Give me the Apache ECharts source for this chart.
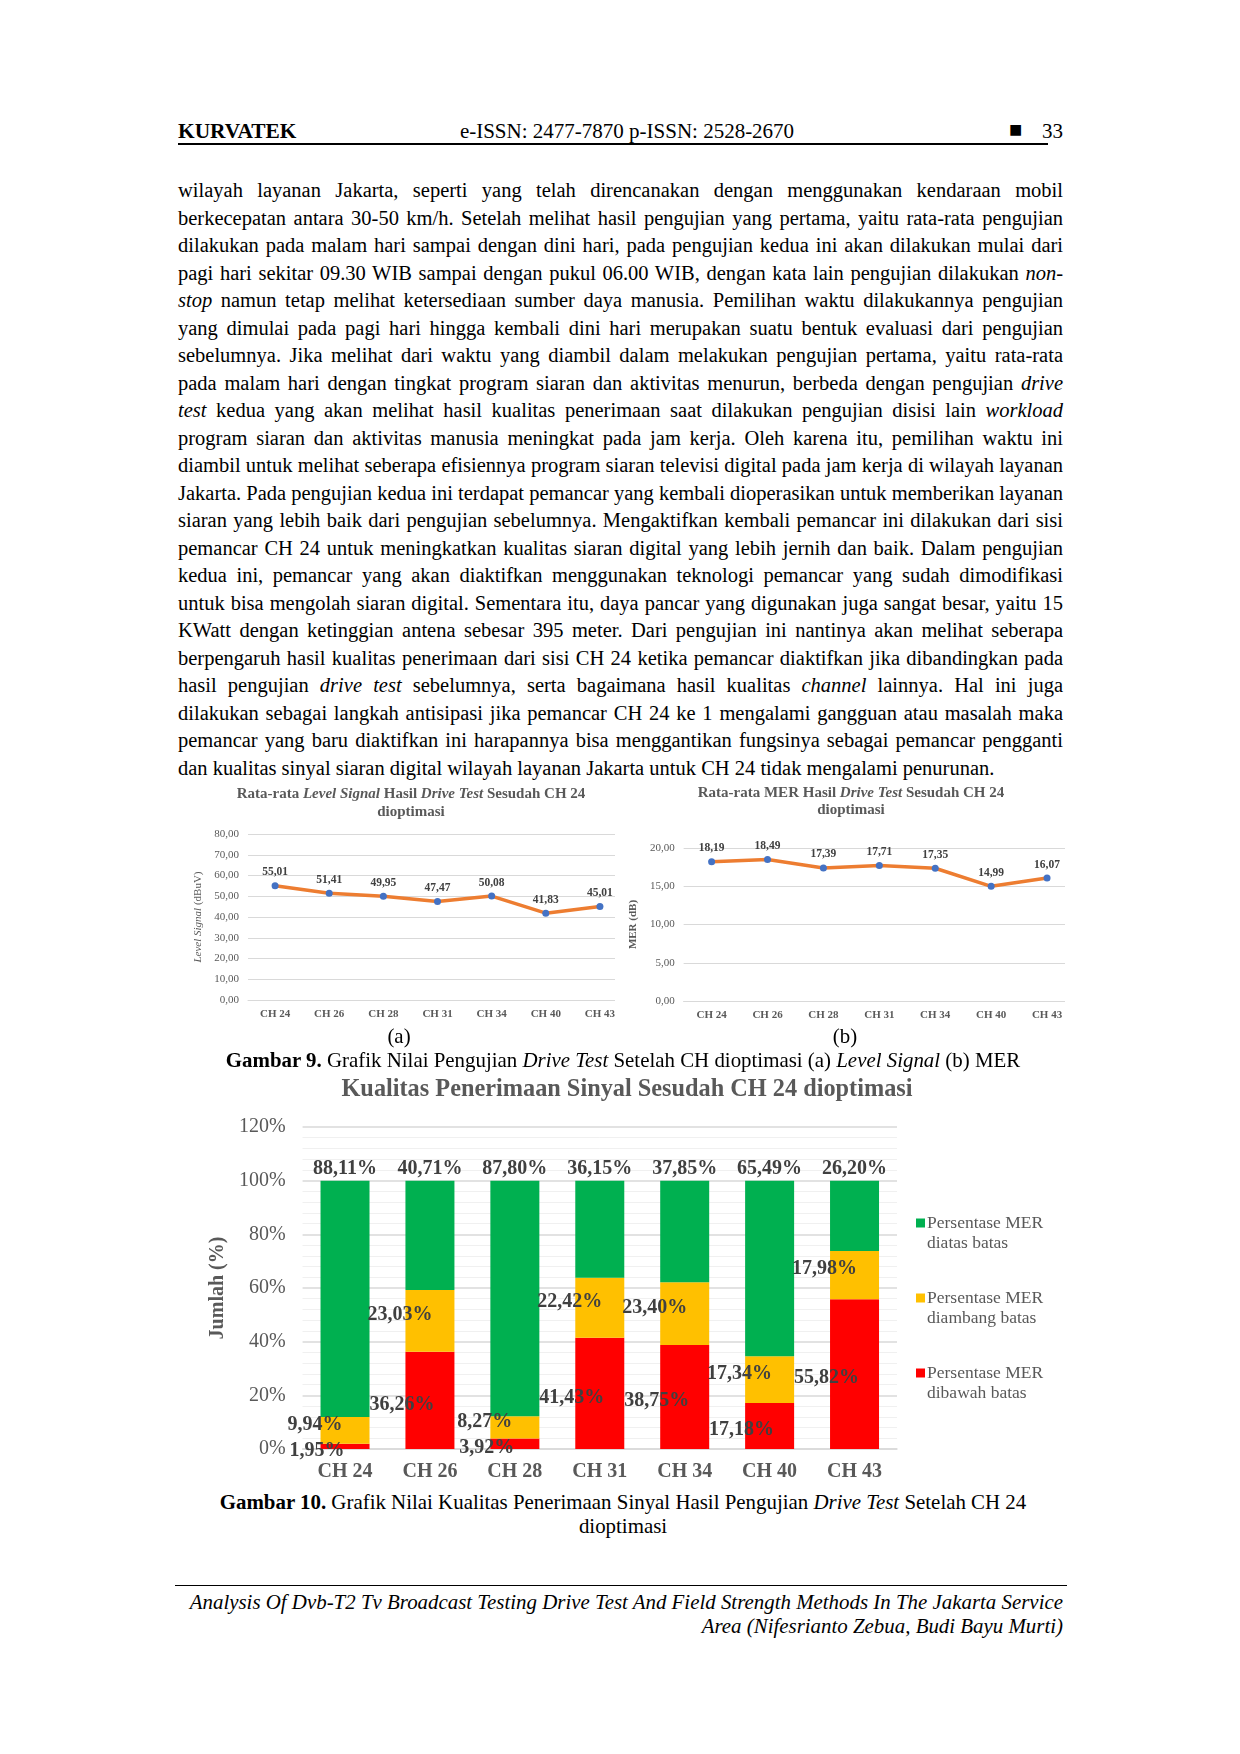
<!DOCTYPE html>
<html>
<head>
<meta charset="utf-8">
<script src="https://cdn.jsdelivr.net/npm/echarts@6/dist/echarts.min.js"></script>
<style>
  body { margin: 0; background: #fff; }
  #page { position: relative; width: 1240px; height: 1754px; font-family: "Liberation Serif", "Times New Roman", serif; color: #000; }
  .abs { position: absolute; }
  .txt { font-size: 20.9px; line-height: 27.5px; }
  .body { font-size: 20.5px; line-height: 27.5px; }
  .pline { white-space: nowrap; height: 27.5px; }
  .clip { position: absolute; overflow: hidden; }
</style>
</head>
<body>
<div id="page">
  <div class="abs" style="left:178px;top:119px;font-size:21.4px;font-weight:bold;line-height:24px;">KURVATEK</div>
  <div class="abs" style="left:427px;top:119px;width:400px;text-align:center;font-size:21px;line-height:24px;">e-ISSN: 2477-7870 p-ISSN: 2528-2670</div>
  <div class="abs" style="left:1009px;top:118px;font-size:22px;line-height:24px;">&#9632;</div>
  <div class="abs" style="left:990px;top:119px;width:73px;text-align:right;font-size:21px;line-height:24px;">33</div>
  <div class="abs" style="left:178px;top:143px;width:870px;height:1.5px;background:#000;"></div>

  <div id="para" class="abs body" style="left:178px;top:177px;width:885px;"></div>

  <div class="clip" style="left:170px;top:780px;width:445px;height:250px;"><div id="chartA" style="width:470px;height:250px;"></div></div>
  <div class="clip" style="left:620px;top:780px;width:445px;height:250px;"><div id="chartB" style="width:470px;height:250px;"></div></div>

  <div class="abs txt" style="left:349px;top:1023px;width:100px;text-align:center;">(a)</div>
  <div class="abs txt" style="left:795px;top:1023px;width:100px;text-align:center;">(b)</div>
  <div class="abs txt" style="left:123px;top:1047px;width:1000px;text-align:center;"><b>Gambar 9.</b> Grafik Nilai Pengujian <i>Drive Test</i> Setelah CH dioptimasi (a) <i>Level Signal</i> (b) MER</div>

  <div id="chartC" class="abs" style="left:200px;top:1070px;width:900px;height:420px;"></div>

  <div class="abs txt" style="left:123px;top:1490px;width:1000px;text-align:center;line-height:24px;"><b>Gambar 10.</b> Grafik Nilai Kualitas Penerimaan Sinyal Hasil Pengujian <i>Drive Test</i> Setelah CH 24<br>dioptimasi</div>

  <div class="abs" style="left:175px;top:1585px;width:892px;height:1px;background:#000;"></div>
  <div class="abs txt" style="left:163px;top:1590px;width:900px;text-align:right;line-height:24px;font-style:italic;">Analysis Of Dvb-T2 Tv Broadcast Testing Drive Test And Field Strength Methods In The Jakarta Service<br>Area (Nifesrianto Zebua, Budi Bayu Murti)</div>
</div>

<script>
var channels = ["CH 24", "CH 26", "CH 28", "CH 31", "CH 34", "CH 40", "CH 43"];
var levelSignal = [55.01, 51.41, 49.95, 47.47, 50.08, 41.83, 45.01];
var merAverage = [18.19, 18.49, 17.39, 17.71, 17.35, 14.99, 16.07];
var merAbove = [88.11, 40.71, 87.80, 36.15, 37.85, 65.49, 26.20];
var merThreshold = [9.94, 23.03, 8.27, 22.42, 23.40, 17.34, 17.98];
var merBelow = [1.95, 36.26, 3.92, 41.43, 38.75, 17.18, 55.82];
var qualityNames = ["Persentase MER diatas batas", "Persentase MER diambang batas", "Persentase MER dibawah batas"];

var paraLines = [
  "wilayah layanan Jakarta, seperti yang telah direncanakan dengan menggunakan kendaraan mobil",
  "berkecepatan antara 30-50 km/h. Setelah melihat hasil pengujian yang pertama, yaitu rata-rata pengujian",
  "dilakukan pada malam hari sampai dengan dini hari, pada pengujian kedua ini akan dilakukan mulai dari",
  "pagi hari sekitar 09.30 WIB sampai dengan pukul 06.00 WIB, dengan kata lain pengujian dilakukan <i>non-</i>",
  "<i>stop</i> namun tetap melihat ketersediaan sumber daya manusia. Pemilihan waktu dilakukannya pengujian",
  "yang dimulai pada pagi hari hingga kembali dini hari merupakan suatu bentuk evaluasi dari pengujian",
  "sebelumnya. Jika melihat dari waktu yang diambil dalam melakukan pengujian pertama, yaitu rata-rata",
  "pada malam hari dengan tingkat program siaran dan aktivitas menurun, berbeda dengan pengujian <i>drive</i>",
  "<i>test</i> kedua yang akan melihat hasil kualitas penerimaan saat dilakukan pengujian disisi lain <i>workload</i>",
  "program siaran dan aktivitas manusia meningkat pada jam kerja. Oleh karena itu, pemilihan waktu ini",
  "diambil untuk melihat seberapa efisiennya program siaran televisi digital pada jam kerja di wilayah layanan",
  "Jakarta. Pada pengujian kedua ini terdapat pemancar yang kembali dioperasikan untuk memberikan layanan",
  "siaran yang lebih baik dari pengujian sebelumnya. Mengaktifkan kembali pemancar ini dilakukan dari sisi",
  "pemancar CH 24 untuk meningkatkan kualitas siaran digital yang lebih jernih dan baik. Dalam pengujian",
  "kedua ini, pemancar yang akan diaktifkan menggunakan teknologi pemancar yang sudah dimodifikasi",
  "untuk bisa mengolah siaran digital. Sementara itu, daya pancar yang digunakan juga sangat besar, yaitu 15",
  "KWatt dengan ketinggian antena sebesar 395 meter. Dari pengujian ini nantinya akan melihat seberapa",
  "berpengaruh hasil kualitas penerimaan dari sisi CH 24 ketika pemancar diaktifkan jika dibandingkan pada",
  "hasil pengujian <i>drive test</i> sebelumnya, serta bagaimana hasil kualitas <i>channel</i> lainnya. Hal ini juga",
  "dilakukan sebagai langkah antisipasi jika pemancar CH 24 ke 1 mengalami gangguan atau masalah maka",
  "pemancar yang baru diaktifkan ini harapannya bisa menggantikan fungsinya sebagai pemancar pengganti",
  "dan kualitas sinyal siaran digital wilayah layanan Jakarta untuk CH 24 tidak mengalami penurunan."
];

// paragraf: tiap baris dibuat rata kiri-kanan manual lewat word-spacing
var para = document.getElementById("para");
paraLines.forEach(function (html, i) {
  var d = document.createElement("div");
  d.className = "pline";
  d.innerHTML = "<span>" + html + "</span>";
  para.appendChild(d);
  if (i < paraLines.length - 1) {
    var span = d.firstChild;
    var gaps = (span.textContent.match(/ /g) || []).length;
    var extra = (885 - span.getBoundingClientRect().width) / gaps;
    d.style.wordSpacing = extra + "px";
  }
});

var serif = "Liberation Serif";
var grey = "#595959";
function comma(v) { return v.toFixed(2).replace(".", ","); }

/**
 * grafik garis rata-rata
 */
function lineChart(id, o) {
  var chart = echarts.init(document.getElementById(id));
  chart.setOption({
    animation: false,
    title: {
      text: o.title,
      left: o.titleX,
      top: 0,
      textAlign: "center",
      textStyle: {
        rich: {
          b: { fontFamily: serif, fontWeight: "bold", fontSize: 15, color: grey, lineHeight: o.titleLH },
          bi: { fontFamily: serif, fontWeight: "bold", fontStyle: "italic", fontSize: 15, color: grey, lineHeight: o.titleLH }
        }
      }
    },
    grid: { left: o.left, top: o.top, width: o.width, height: o.height },
    xAxis: {
      type: "category",
      data: channels,
      axisLine: { lineStyle: { color: "#D9D9D9" } },
      axisTick: { show: false },
      axisLabel: { fontFamily: serif, fontWeight: "bold", fontSize: 11, color: grey, margin: 9 }
    },
    yAxis: {
      type: "value",
      min: 0,
      max: o.max,
      interval: o.interval,
      name: o.yName,
      nameLocation: "middle",
      nameGap: o.nameGap,
      nameTextStyle: {
        fontFamily: serif, fontSize: 11, color: grey, fontWeight: o.nameBold ? "bold" : "normal",
        rich: { i: { fontFamily: serif, fontSize: 11, color: grey, fontStyle: "italic" } }
      },
      axisLabel: { fontFamily: serif, fontSize: 11, color: grey, margin: 9, formatter: comma },
      splitLine: { lineStyle: { color: "#D9D9D9" } }
    },
    series: [{
      type: "line",
      data: o.data,
      symbol: "circle",
      symbolSize: 7,
      itemStyle: { color: "#4472C4" },
      lineStyle: { color: "#ED7D31", width: 3.5 },
      label: {
        show: true,
        position: "top",
        distance: 4,
        fontFamily: serif,
        fontWeight: "bold",
        fontSize: 11.5,
        color: "#404040",
        formatter: function (p) { return comma(p.value); }
      }
    }]
  });
}

lineChart("chartA", {
  title: "{b|Rata-rata }{bi|Level Signal}{b| Hasil }{bi|Drive Test}{b| Sesudah CH 24}\n{b|dioptimasi}",
  titleX: 236, titleLH: 18,
  left: 78, top: 54, width: 379, height: 166,
  max: 80, interval: 10,
  yName: "{i|Level Signal} (dBuV)", nameGap: 39, nameBold: false,
  data: levelSignal
});

lineChart("chartB", {
  title: "{b|Rata-rata MER Hasil }{bi|Drive Test}{b| Sesudah CH 24}\n{b|dioptimasi}",
  titleX: 226, titleLH: 17,
  left: 63, top: 68, width: 392, height: 153,
  max: 20, interval: 5,
  yName: "MER (dB)", nameGap: 40, nameBold: true,
  data: merAverage
});

/**
 * grafik batang kualitas penerimaan
 */
var barChart = echarts.init(document.getElementById("chartC"));
var barLabel = {
  show: true,
  fontFamily: serif,
  fontWeight: "bold",
  fontSize: 20,
  color: "#404040",
  formatter: function (p) { return comma(p.value) + "%"; }
};
barChart.setOption({
  animation: false,
  title: {
    text: "Kualitas Penerimaan Sinyal Sesudah CH 24 dioptimasi",
    left: 422,
    top: 3,
    textAlign: "center",
    textStyle: { fontFamily: serif, fontWeight: "bold", fontSize: 24.3, color: grey }
  },
  legend: {
    orient: "vertical",
    left: 711,
    top: 118,
    itemGap: 15,
    itemWidth: 9,
    itemHeight: 9,
    icon: "rect",
    data: qualityNames,
    formatter: function (name) { return " \n" + name.replace(" MER ", " MER\n"); },
    textStyle: { fontFamily: serif, fontSize: 17.5, color: grey, lineHeight: 20, padding: [0, 0, 0, -3] }
  },
  grid: { left: 99, top: 57, width: 598, height: 322 },
  xAxis: {
    type: "category",
    data: channels,
    axisLine: { lineStyle: { color: "#D9D9D9", width: 1.5 } },
    axisTick: { show: false },
    axisLabel: { fontFamily: serif, fontWeight: "bold", fontSize: 20, color: grey, margin: 13 }
  },
  yAxis: {
    type: "value",
    min: 0,
    max: 120,
    interval: 20,
    name: "Jumlah (%)",
    nameLocation: "middle",
    nameGap: 69,
    nameTextStyle: { fontFamily: serif, fontWeight: "bold", fontSize: 20, color: grey },
    axisLabel: { fontFamily: serif, fontSize: 20, color: grey, margin: 17, formatter: "{value}%" },
    splitLine: { lineStyle: { color: "#D9D9D9", width: 1.5 } },
    minorTick: { show: false, splitNumber: 5 },
    minorSplitLine: { show: true, lineStyle: { color: "#F0F0F0" } }
  },
  series: [
    {
      name: qualityNames[2], type: "bar", stack: "mer", barWidth: 49, data: merBelow,
      itemStyle: { color: "#FF0000" },
      label: Object.assign({}, barLabel, { position: "inside", offset: [-28, 4] })
    },
    {
      name: qualityNames[1], type: "bar", stack: "mer", data: merThreshold,
      itemStyle: { color: "#FFC000" },
      label: Object.assign({}, barLabel, { position: "inside", offset: [-30, -6] })
    },
    {
      name: qualityNames[0], type: "bar", stack: "mer", data: merAbove,
      itemStyle: { color: "#00B050" },
      label: Object.assign({}, barLabel, { position: "top", distance: 2 })
    }
  ]
});
</script>
</body>
</html>
